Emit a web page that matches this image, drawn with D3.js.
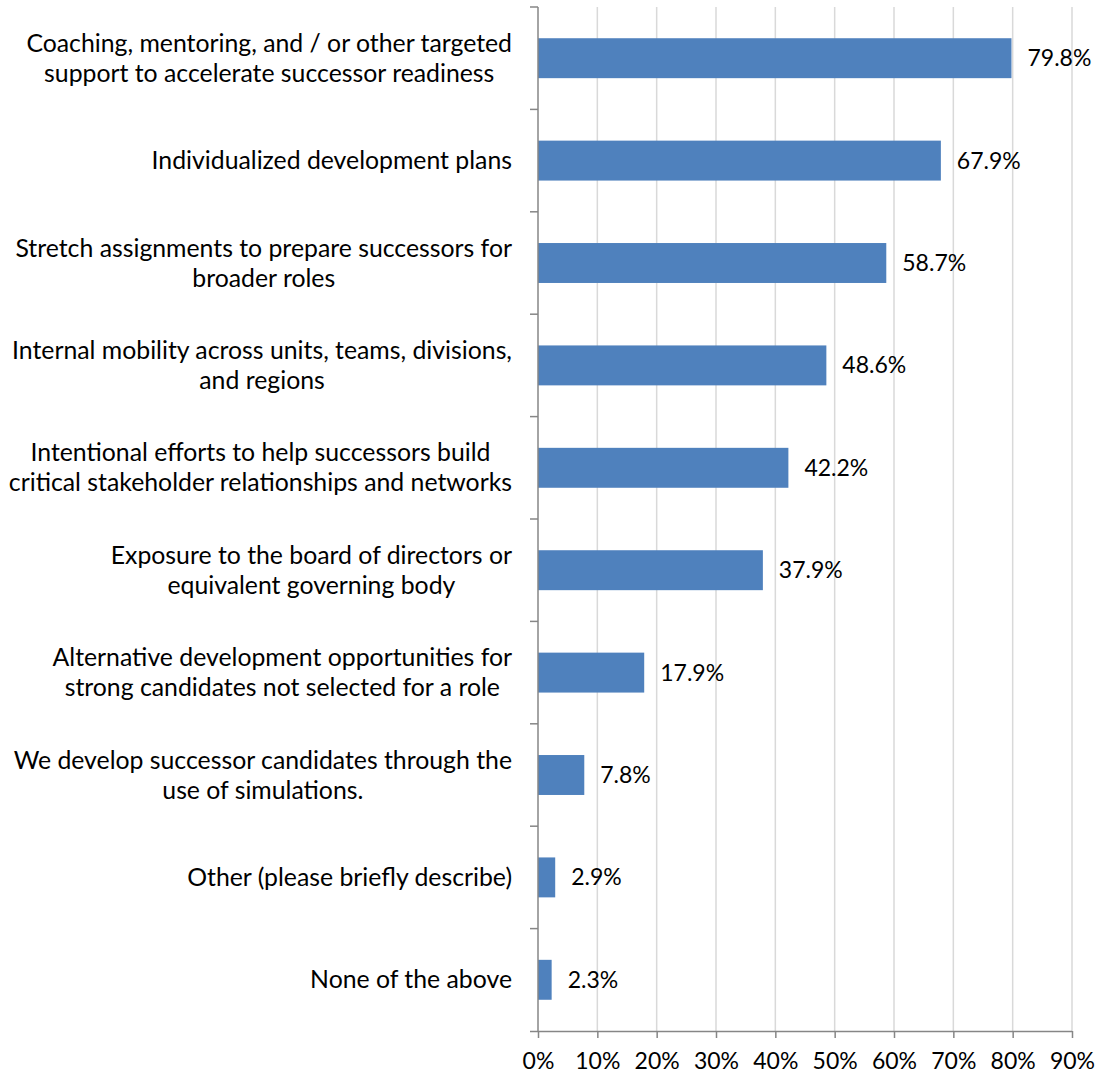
<!DOCTYPE html>
<html><head><meta charset="utf-8">
<script src="https://cdn.jsdelivr.net/npm/d3@7"></script>
<style>body{margin:0;background:#fff}svg{display:block}text{font-family:Lato,"Open Sans",sans-serif;fill:#000}</style>
</head><body><svg id="c" width="1100" height="1080"></svg>
<script>
const categories = [
  ["Coaching, mentoring, and / or other targeted","support to accelerate successor readiness"],
  ["Individualized development plans"],
  ["Stretch assignments to prepare successors for","broader roles"],
  ["Internal mobility across units, teams, divisions,","and regions"],
  ["Intentional efforts to help successors build","critical stakeholder relationships and networks"],
  ["Exposure to the board of directors or","equivalent governing body"],
  ["Alternative development opportunities for","strong candidates not selected for a role"],
  ["We develop successor candidates through the","use of simulations."],
  ["Other (please briefly describe)"],
  ["None of the above"]
];
const values = [79.8, 67.9, 58.7, 48.6, 42.2, 37.9, 17.9, 7.8, 2.9, 2.3];
const tickValues = [0,10,20,30,40,50,60,70,80,90];

(function(){
const svg = d3.select("#c");
const L = 538, R = 1072, T = 7, B = 1031;
const FS = 24.8, FS2 = 23;
const x = d3.scaleLinear().domain([0,90]).range([L,R]);
const y = d3.scaleBand().domain(d3.range(values.length)).range([T,B]).paddingInner(0.61).paddingOuter(0.305);
const yb = d3.scaleBand().domain(d3.range(values.length)).range([T,B]);

svg.append("g").selectAll("line").data(tickValues.slice(1)).join("line")
  .attr("x1",d=>x(d)).attr("x2",d=>x(d)).attr("y1",T).attr("y2",B)
  .attr("stroke","#d9d9d9").attr("stroke-width",1.5);

svg.append("g").selectAll("rect").data(values).join("rect")
  .attr("x",x(0)).attr("y",(d,i)=>y(i)).attr("width",d=>x(d)-x(0)).attr("height",y.bandwidth())
  .attr("fill","#4f81bd");

const xa = svg.append("g").attr("transform",`translate(0,${B})`)
  .call(d3.axisBottom(x).tickValues(tickValues).tickFormat(d=>d+"%").tickSize(7).tickSizeOuter(0));
xa.select(".domain").attr("stroke","#868686").attr("stroke-width",1.5).attr("d",`M${L-8},0.5H${R}`);
xa.selectAll(".tick line").attr("stroke","#868686").attr("stroke-width",1.5);
xa.selectAll(".tick text").attr("font-size",FS2).attr("dy","0").attr("y",38).attr("fill","#000").style("font-family","Lato");

const ya = svg.append("g");
ya.append("line").attr("x1",L).attr("x2",L).attr("y1",T).attr("y2",B).attr("stroke","#868686").attr("stroke-width",1.5);
ya.selectAll("line.t").data(d3.range(values.length)).join("line").attr("class","t")
  .attr("x1",L-8).attr("x2",L).attr("y1",i=>yb(i)).attr("y2",i=>yb(i))
  .attr("stroke","#868686").attr("stroke-width",1.5);

const lh = 30, rightEdge = L - 26;
const lab = svg.append("g").selectAll("text").data(categories).join("text")
  .attr("text-anchor","middle").attr("font-size",FS);
lab.selectAll("tspan").data(d=>d).join("tspan").attr("x",0).attr("y",(d,j)=>j*lh).attr("dy","0.35em").text(d=>d);
lab.each(function(d,i){
  let maxW = 0;
  d3.select(this).selectAll("tspan").each(function(){ maxW = Math.max(maxW, this.getComputedTextLength()); });
  d3.select(this).attr("transform",`translate(${rightEdge - maxW/2},${yb(i)+yb.bandwidth()/2 - (d.length-1)*lh/2})`);
});

svg.append("g").selectAll("text").data(values).join("text")
  .attr("x",d=>x(d)+16).attr("y",(d,i)=>y(i)+y.bandwidth()/2).attr("dy","0.35em")
  .attr("font-size",FS2).text(d=>d.toFixed(1)+"%");
})();
</script></body></html>
